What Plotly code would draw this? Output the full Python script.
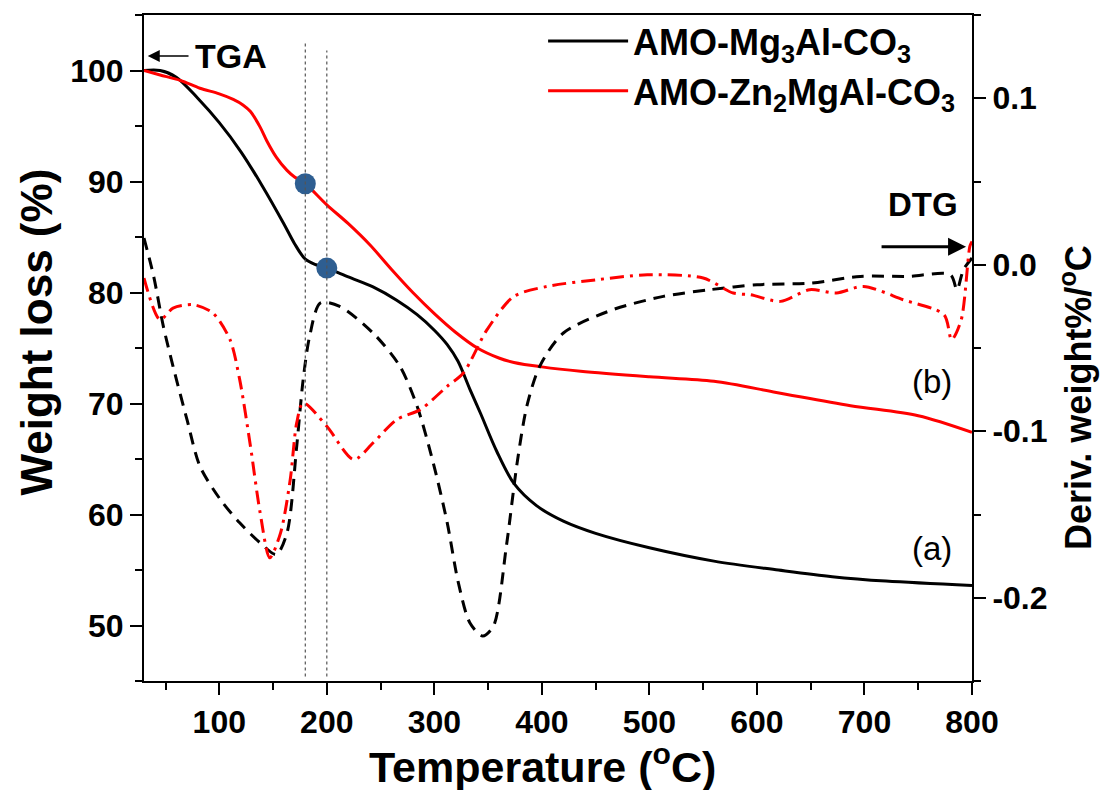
import plotly.graph_objects as go

# ---------------- data ----------------
# TGA, AMO-Mg3Al-CO3 (left axis, weight %)
T_mg = [30, 45, 60, 80, 100, 120, 140, 160, 170, 180, 190, 200, 220, 243, 265, 284, 300, 312, 322, 333,
        343, 358, 374, 395, 420, 450, 500, 560, 620, 670, 720, 800]
W_mg = [100, 100, 99.4, 97.5, 95.3, 92.7, 89.6, 86.2, 84.4, 83.0, 82.5, 82.2, 81.4, 80.5, 79.3, 78.0, 76.6, 75.3, 73.8, 71.3,
        69.1, 65.7, 62.8, 60.8, 59.4, 58.3, 57.0, 55.8, 55.0, 54.4, 54.0, 53.6]

# TGA, AMO-Zn2MgAl-CO3
T_zn = [30, 45, 64, 82, 100, 113, 122, 129, 138, 144, 153, 163, 170, 180, 200, 220, 240, 260, 280, 300,
        320, 340, 360, 374, 400, 436, 500, 560, 618, 687, 750, 800]
W_zn = [100, 99.6, 99.1, 98.4, 97.9, 97.4, 96.9, 96.3, 94.9, 93.7, 92.2, 91.0, 90.4, 89.8, 87.9, 86.2, 84.3, 82.1, 80.0, 78.1,
        76.4, 75.0, 74.1, 73.7, 73.3, 72.9, 72.4, 72.0, 71.0, 69.8, 68.9, 67.4]

# DTG, AMO-Mg3Al-CO3 (right axis)
T_mg_d = [30, 39, 48, 57, 70, 82, 101, 119, 138, 153, 163, 172, 178, 184, 194, 212, 243, 268, 284, 299,
          312, 322, 333, 345, 355, 367, 377, 386, 398, 420, 466, 513, 556, 600, 650, 696, 740, 780, 786, 792, 800]
D_mg = [0.016, -0.007, -0.037, -0.061, -0.093, -0.121, -0.141, -0.155, -0.167, -0.174, -0.161, -0.109, -0.069, -0.043, -0.023,
        -0.025, -0.041, -0.061, -0.085, -0.119, -0.155, -0.190, -0.215, -0.223, -0.217, -0.169, -0.119, -0.085, -0.061,
        -0.041, -0.027, -0.019, -0.015, -0.012, -0.011, -0.007, -0.007, -0.006, -0.015, -0.003, 0.004]

# DTG, AMO-Zn2MgAl-CO3
T_zn_d = [30, 45, 57, 76, 94, 110, 119, 129, 138, 147, 157, 166, 172, 178, 200, 225, 243, 265, 287, 312,
          327, 349, 374, 405, 451, 498, 550, 578, 594, 622, 649, 674, 699, 736, 774, 781, 790, 798, 800]
D_zn = [-0.008, -0.033, -0.026, -0.024, -0.029, -0.045, -0.069, -0.109, -0.149, -0.176, -0.161, -0.129, -0.095, -0.083,
        -0.097, -0.117, -0.107, -0.093, -0.087, -0.073, -0.065, -0.039, -0.019, -0.013, -0.009, -0.006, -0.008, -0.017,
        -0.018, -0.022, -0.015, -0.017, -0.013, -0.021, -0.030, -0.045, -0.033, 0.011, 0.014]

# highlighted points and guide lines
mark_T = [180, 200]
mark_W = [89.8, 82.2]
guide_top = [102.5, 101.8]
guide_bottom = 45.4

legend_names = ["AMO-Mg<sub>3</sub>Al-CO<sub>3</sub>", "AMO-Zn<sub>2</sub>MgAl-CO<sub>3</sub>"]
x_ticks = [100, 200, 300, 400, 500, 600, 700, 800]
y_ticks = [50, 60, 70, 80, 90, 100]
y2_ticks = [-0.2, -0.1, 0.0, 0.1]
y2_ticktext = ["-0.2", "-0.1", "0.0", "0.1"]

x_title = "Temperature (<sup>o</sup>C)"
y_title = "Weight loss (%)"
y2_title = "Deriv. weight%/<sup>o</sup>C"

FONT = "Arial, 'Liberation Sans', sans-serif"
RED = "#FF0000"
BLACK = "#000000"

fig = go.Figure()

# DTG curves (right axis)
fig.add_trace(go.Scatter(x=T_mg_d, y=D_mg, yaxis="y2", mode="lines", showlegend=False,
                         line=dict(color=BLACK, width=3, dash="12px,8px", shape="spline", smoothing=0.8)))
fig.add_trace(go.Scatter(x=T_zn_d, y=D_zn, yaxis="y2", mode="lines", showlegend=False,
                         line=dict(color=RED, width=3, dash="14px,6px,3px,6px", shape="spline", smoothing=0.8)))

# TGA curves (left axis)
fig.add_trace(go.Scatter(x=T_mg, y=W_mg, mode="lines", name=legend_names[0], legendgroup="a",
                         line=dict(color=BLACK, width=3, shape="spline", smoothing=0.9)))
fig.add_trace(go.Scatter(x=T_zn, y=W_zn, mode="lines", name=legend_names[1], legendgroup="b",
                         line=dict(color=RED, width=3, shape="spline", smoothing=0.9)))

# vertical dotted guides
for t, top in zip(mark_T, guide_top):
    fig.add_shape(type="line", xref="x", yref="y", x0=t, x1=t, y0=guide_bottom, y1=top,
                  line=dict(color="#555555", width=1.2, dash="3px,3px"))

# blue markers
fig.add_trace(go.Scatter(x=mark_T, y=mark_W, mode="markers", showlegend=False,
                         marker=dict(size=21, color="#2E5E91")))

# annotations
ann = [
    dict(x=111, y=101.3, xref="x", yref="y", text="TGA", showarrow=False,
         font=dict(size=34, family=FONT, color="black", weight="bold")),
    dict(x=33.5, y=101.3, ax=72.8, ay=101.3, xref="x", yref="y", axref="x", ayref="y", text="",
         showarrow=True, arrowhead=2, arrowsize=1.6, arrowwidth=1.5, arrowcolor="black"),
    dict(x=754, y=0.036, xref="x", yref="y2", text="DTG", showarrow=False,
         font=dict(size=33, family=FONT, color="black", weight="bold")),
    dict(x=794.5, y=0.0108, ax=714.5, ay=0.0108, xref="x", yref="y2", axref="x", ayref="y2", text="",
         showarrow=True, arrowhead=2, arrowsize=1.2, arrowwidth=3, arrowcolor="black"),
    dict(x=763, y=72.0, xref="x", yref="y", text="(b)", showarrow=False,
         font=dict(size=33, family=FONT, color="black")),
    dict(x=763, y=56.9, xref="x", yref="y", text="(a)", showarrow=False,
         font=dict(size=33, family=FONT, color="black")),
    # axis titles
    dict(x=0.4807, y=-0.1246, xref="paper", yref="paper", text=x_title, showarrow=False,
         xanchor="center", yanchor="middle",
         font=dict(size=43, family=FONT, color="black", weight="bold")),
    dict(x=-0.1295, y=0.5245, xref="paper", yref="paper", text=y_title, showarrow=False, textangle=-90,
         xanchor="center", yanchor="middle",
         font=dict(size=44, family=FONT, color="black", weight="bold")),
    dict(x=1.1256, y=0.4264, xref="paper", yref="paper", text=y2_title, showarrow=False, textangle=-90,
         xanchor="center", yanchor="middle",
         font=dict(size=36, family=FONT, color="black", weight="bold")),
]

tickfont = dict(size=32, family=FONT, color="black", weight="bold")

fig.update_layout(
    width=1092, height=782,
    margin=dict(l=136, r=128, t=7, b=109, autoexpand=False),
    paper_bgcolor="white", plot_bgcolor="white",
    font=dict(family=FONT, color="black"),
    annotations=ann,
    showlegend=True,
    legend=dict(x=0.482, y=1.006, xanchor="left", yanchor="top", bgcolor="rgba(0,0,0,0)",
                font=dict(size=36, family=FONT, color="black", weight="bold"),
                itemwidth=80, tracegroupgap=0, traceorder="normal"),
    xaxis=dict(range=[30, 800], tickvals=x_ticks, ticks="outside", ticklen=12, tickwidth=2,
               tickcolor="black", showline=True, linewidth=2, linecolor="black", mirror=True,
               showgrid=False, zeroline=False, tickfont=tickfont, automargin=False,
               minor=dict(dtick=50, tick0=0, ticks="outside", ticklen=7, tickwidth=2, tickcolor="black", showgrid=False)),
    yaxis=dict(range=[45, 105], tickvals=y_ticks, ticks="outside", ticklen=12, tickwidth=2,
               tickcolor="black", showline=True, linewidth=2, linecolor="black", mirror=True,
               showgrid=False, zeroline=False, tickfont=tickfont, automargin=False,
               minor=dict(dtick=5, tick0=0, ticks="outside", ticklen=7, tickwidth=2, tickcolor="black", showgrid=False)),
    yaxis2=dict(overlaying="y", side="right", range=[-0.25, 0.15], tickvals=y2_ticks, ticktext=y2_ticktext,
                ticks="outside", ticklen=12, tickwidth=2, tickcolor="black", showline=True, linewidth=2,
                linecolor="black", showgrid=False, zeroline=False, tickfont=tickfont, automargin=False,
                minor=dict(dtick=0.05, tick0=0, ticks="outside", ticklen=7, tickwidth=2, tickcolor="black", showgrid=False)),
)

fig.write_html("out.html")
